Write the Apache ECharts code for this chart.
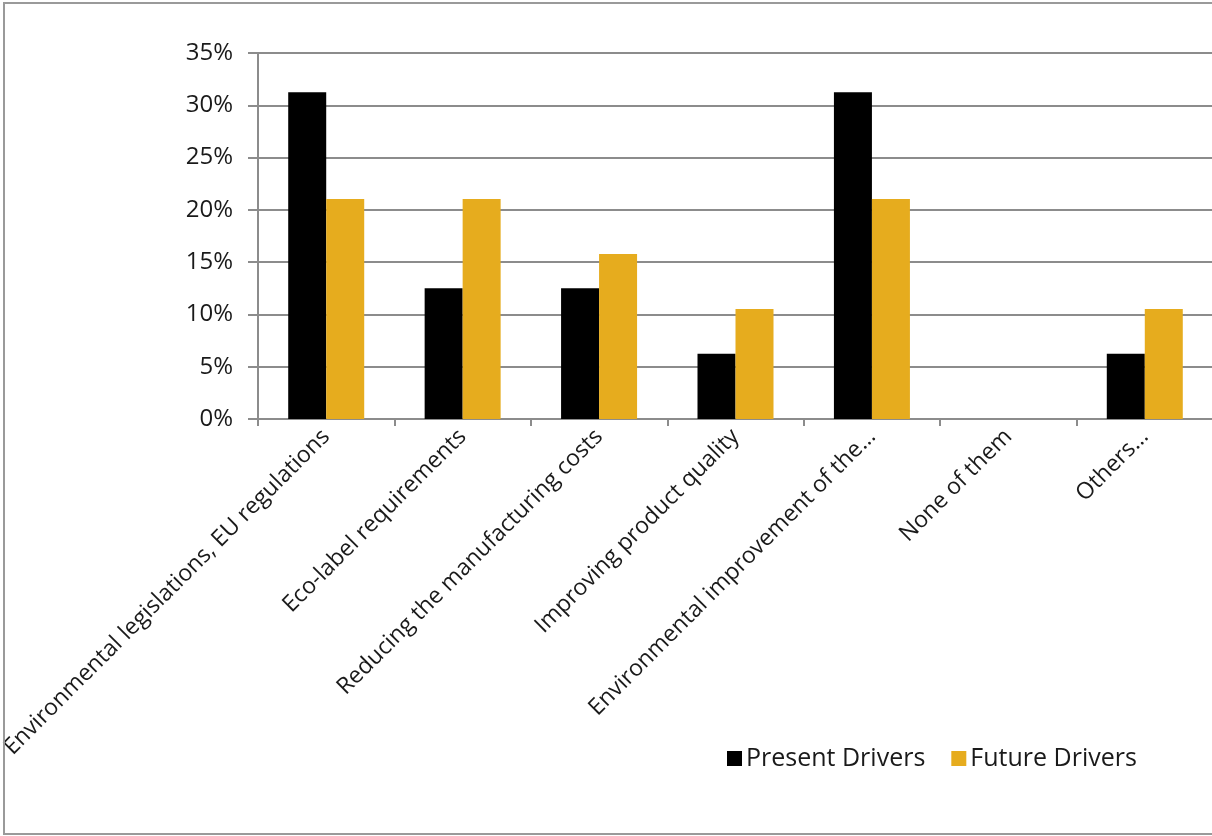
<!DOCTYPE html>
<html>
<head>
<meta charset="utf-8">
<style>
  html, body { margin: 0; padding: 0; background: #fff; }
  #chart { width: 1212px; height: 836px; }
</style>
<script src="https://cdn.jsdelivr.net/npm/echarts@6/dist/echarts.min.js"></script>
</head>
<body>
<div id="chart"></div>
<script>
// Drivers for environmental improvement: share of respondents
const categories = [
  'Environmental legislations, EU regulations',
  'Eco-label requirements',
  'Reducing the manufacturing costs',
  'Improving product quality',
  'Environmental improvement of the…',
  'None of them',
  'Others…'
];
const presentDrivers = [31.25, 12.5, 12.5, 6.25, 31.25, 0, 6.25];
const futureDrivers = [21.05, 21.05, 15.79, 10.53, 21.05, 0, 10.53];
const yTicks = { min: 0, max: 35, interval: 5 };

const FONT = '"Open Sans", Lato, sans-serif';
const chart = echarts.init(document.getElementById('chart'), null, { renderer: 'canvas' });

chart.setOption({
  animation: false,
  backgroundColor: '#fff',
  textStyle: { fontFamily: FONT },
  graphic: [{
    type: 'rect',
    shape: { x: 4, y: 3, width: 1220, height: 831 },
    style: { fill: 'none', stroke: '#9a9a9a', lineWidth: 2 },
    z: 100
  }],
  grid: {
    left: 258, top: 53, width: 955, height: 366,
    containLabel: false, outerBoundsMode: 'none'
  },
  legend: {
    left: 722, top: 741,
    itemWidth: 15, itemHeight: 15, itemGap: 26,
    icon: 'rect',
    textStyle: { fontSize: 25, color: '#1a1a1a', fontFamily: FONT, padding: [0, 0, 0, -1] },
    data: ['Present Drivers', 'Future Drivers']
  },
  xAxis: {
    type: 'category',
    data: categories,
    boundaryGap: true,
    axisLine: { lineStyle: { color: '#8c8c8c', width: 2 } },
    axisTick: { show: true, length: 7, lineStyle: { color: '#8c8c8c', width: 2 } },
    axisLabel: {
      interval: 0, rotate: 45, margin: 14,
      fontSize: 23, color: '#1a1a1a', fontFamily: FONT
    }
  },
  yAxis: {
    type: 'value',
    min: yTicks.min, max: yTicks.max, interval: yTicks.interval,
    axisLine: { show: true, lineStyle: { color: '#8c8c8c', width: 2 } },
    axisTick: { show: true, length: 10, lineStyle: { color: '#8c8c8c', width: 2 } },
    splitLine: { lineStyle: { color: '#8c8c8c', width: 2 } },
    axisLabel: {
      formatter: '{value}%', fontSize: 24, color: '#1a1a1a', margin: 25, fontFamily: FONT
    }
  },
  series: [
    {
      name: 'Present Drivers', type: 'bar', data: presentDrivers,
      barWidth: 38, barGap: '0%',
      itemStyle: { color: '#000000' }
    },
    {
      name: 'Future Drivers', type: 'bar', data: futureDrivers,
      barWidth: 38, barGap: '0%',
      itemStyle: { color: '#E6AC1E' }
    }
  ]
});
</script>
</body>
</html>
